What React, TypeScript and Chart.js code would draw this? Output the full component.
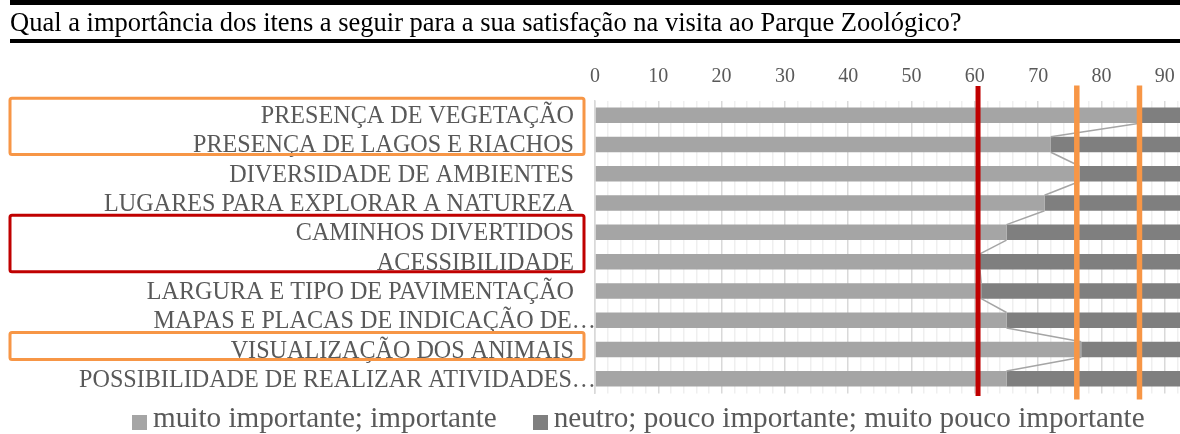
import React, { useEffect, useRef } from 'react';
import { Chart, registerables } from 'chart.js';

Chart.register(...registerables);

const TITLE = 'Qual a importância dos itens a seguir para a sua satisfação na visita ao Parque Zoológico?';

const CATEGORIES = [
  'PRESENÇA DE VEGETAÇÃO',
  'PRESENÇA DE LAGOS E RIACHOS',
  'DIVERSIDADE DE AMBIENTES',
  'LUGARES PARA EXPLORAR A NATUREZA',
  'CAMINHOS DIVERTIDOS',
  'ACESSIBILIDADE',
  'LARGURA E TIPO DE PAVIMENTAÇÃO',
  'MAPAS E PLACAS DE INDICAÇÃO DE…',
  'VISUALIZAÇÃO DOS ANIMAIS',
  'POSSIBILIDADE DE REALIZAR ATIVIDADES…',
];

const SERIES_NAMES = [
  'muito importante; importante',
  'neutro; pouco importante; muito pouco importante',
];

const IMPORTANT = [86.3, 72, 76.5, 71, 65, 60.8, 61, 65, 76.8, 65];
const NEUTRAL = [13.7, 28, 23.5, 29, 35, 39.2, 39, 35, 23.2, 35];

const X_MIN = 0;
const X_MAX = 92.4;
const MAJOR_STEP = 10;
const MINOR_STEP = 2;

const RED_LINES = [60.5];
const ORANGE_LINES = [76.1, 86.0];

const ORANGE_GROUPS = [[0, 1], [8, 8]];
const RED_GROUPS = [[4, 5]];

const COLORS = ['#A5A5A5', '#7F7F7F'];
const TEXT = '#595959';
const ORANGE = '#F79646';
const RED = '#C00000';
const FONT = '"Liberation Serif", "Times New Roman", serif';

const overlay = {
  id: 'overlay',
  afterDatasetsDraw(chart: any) {
    const { ctx, chartArea } = chart;
    const xs = chart.scales.x;
    const meta = chart.getDatasetMeta(0);
    ctx.save();
    // series lines
    ctx.strokeStyle = '#A5A5A5';
    ctx.lineWidth = 1.5;
    for (let i = 0; i < meta.data.length - 1; i++) {
      const a: any = meta.data[i];
      const b: any = meta.data[i + 1];
      ctx.beginPath();
      ctx.moveTo(a.x, a.y + a.height / 2);
      ctx.lineTo(b.x, b.y - b.height / 2);
      ctx.stroke();
    }
    // reference lines
    const vline = (v: number, color: string, w: number, t: number, b: number) => {
      const px = xs.getPixelForValue(v);
      ctx.strokeStyle = color;
      ctx.lineWidth = w;
      ctx.beginPath();
      ctx.moveTo(px, chartArea.top - t);
      ctx.lineTo(px, chartArea.bottom + b);
      ctx.stroke();
    };
    RED_LINES.forEach((v) => vline(v, RED, 5, 14.5, 2.5));
    ORANGE_LINES.forEach((v) => vline(v, ORANGE, 5.5, 15, 6));
    ctx.restore();
  },
  afterDraw(chart: any) {
    const { ctx, chartArea } = chart;
    const ys = chart.scales.y;
    ctx.save();
    ctx.font = `24.15px ${FONT}`;
    ctx.fillStyle = TEXT;
    ctx.textAlign = 'right';
    ctx.textBaseline = 'alphabetic';
    CATEGORIES.forEach((lab, i) => {
      const y = ys.getPixelForValue(i) + 8;
      const x = lab.endsWith('…') ? chartArea.left + 1 : chartArea.left - 21;
      ctx.fillText(lab, x, y);
    });
    const box = (g: number[], color: string) => {
      const top = ys.getPixelForValue(g[0]) - 17;
      const bottom = ys.getPixelForValue(g[1]) + 10;
      const left = 10;
      const right = chartArea.left - 11;
      ctx.strokeStyle = color;
      ctx.lineWidth = 3;
      ctx.beginPath();
      ctx.roundRect(left, top, right - left, bottom - top, 2);
      ctx.stroke();
    };
    ORANGE_GROUPS.forEach((g) => box(g, ORANGE));
    RED_GROUPS.forEach((g) => box(g, RED));
    ctx.restore();
  },
};

export default function App() {
  const ref = useRef<HTMLCanvasElement>(null);

  useEffect(() => {
    if (!ref.current) return;
    const chart = new Chart(ref.current, {
      type: 'bar',
      data: {
        labels: CATEGORIES,
        datasets: [
          { label: SERIES_NAMES[0], data: IMPORTANT, backgroundColor: COLORS[0], borderWidth: 0, barPercentage: 0.53, categoryPercentage: 1 },
          { label: SERIES_NAMES[1], data: NEUTRAL, backgroundColor: COLORS[1], borderWidth: 0, barPercentage: 0.53, categoryPercentage: 1 },
        ],
      },
      options: {
        indexAxis: 'y',
        animation: false,
        responsive: false,
        devicePixelRatio: 1,
        layout: { padding: { top: 60, bottom: 40.5, left: 0, right: 0 } },
        plugins: { legend: { display: false }, tooltip: { enabled: false }, title: { display: false } },
        scales: {
          x: {
            type: 'linear',
            position: 'top',
            stacked: true,
            min: X_MIN,
            max: X_MAX,
            afterBuildTicks: (scale: any) => {
              const t = [];
              for (let v = X_MIN; v <= X_MAX; v += MINOR_STEP) t.push({ value: v });
              scale.ticks = t;
            },
            afterFit: (scale: any) => {
              scale.height = 40.5;
              scale.paddingLeft = 0;
              scale.paddingRight = 0;
            },
            ticks: {
              autoSkip: false,
              maxRotation: 0,
              padding: 11.5,
              color: TEXT,
              font: { family: FONT, size: 20 },
              callback: (v: any) => (Number(v) % MAJOR_STEP === 0 ? String(v) : ''),
            },
            grid: {
              drawTicks: false,
              color: (c: any) => (c.tick && c.tick.value % MAJOR_STEP === 0 ? '#D9D9D9' : '#EFEFEF'),
              lineWidth: 1.5,
            },
            border: { display: false },
          },
          y: {
            type: 'category',
            stacked: true,
            afterFit: (scale: any) => { scale.width = 595; },
            ticks: { display: false },
            grid: { display: false },
            border: { display: true, color: '#D9D9D9', width: 1.5 },
          },
        },
      },
      plugins: [overlay],
    });
    return () => chart.destroy();
  }, []);

  return (
    <div style={{ position: 'fixed', left: 0, top: 0, width: 1180, height: 434, background: '#fff', overflow: 'hidden', fontFamily: FONT }}>
      <canvas ref={ref} width={1180} height={434} style={{ position: 'absolute', left: 0, top: 0 }} />
      <div
        style={{
          position: 'absolute', left: 10, top: 0, right: 0, height: 34,
          borderTop: '5px solid #000', borderBottom: '4px solid #000',
          fontSize: 26.5, lineHeight: '34px', color: '#000', whiteSpace: 'nowrap',
        }}
      >
        {TITLE}
      </div>
      <div style={{ position: 'absolute', left: 132, top: 403, display: 'flex', alignItems: 'flex-start', fontSize: 29.2, lineHeight: '29px', color: TEXT, whiteSpace: 'nowrap' }}>
        {SERIES_NAMES.map((name, i) => (
          <div key={name} style={{ display: 'flex', alignItems: 'flex-start', marginRight: i === 0 ? 36 : 0 }}>
            <span style={{ display: 'inline-block', width: 15, height: 15, marginTop: 12, marginRight: 6, background: COLORS[i] }} />
            <span>{name}</span>
          </div>
        ))}
      </div>
    </div>
  );
}
